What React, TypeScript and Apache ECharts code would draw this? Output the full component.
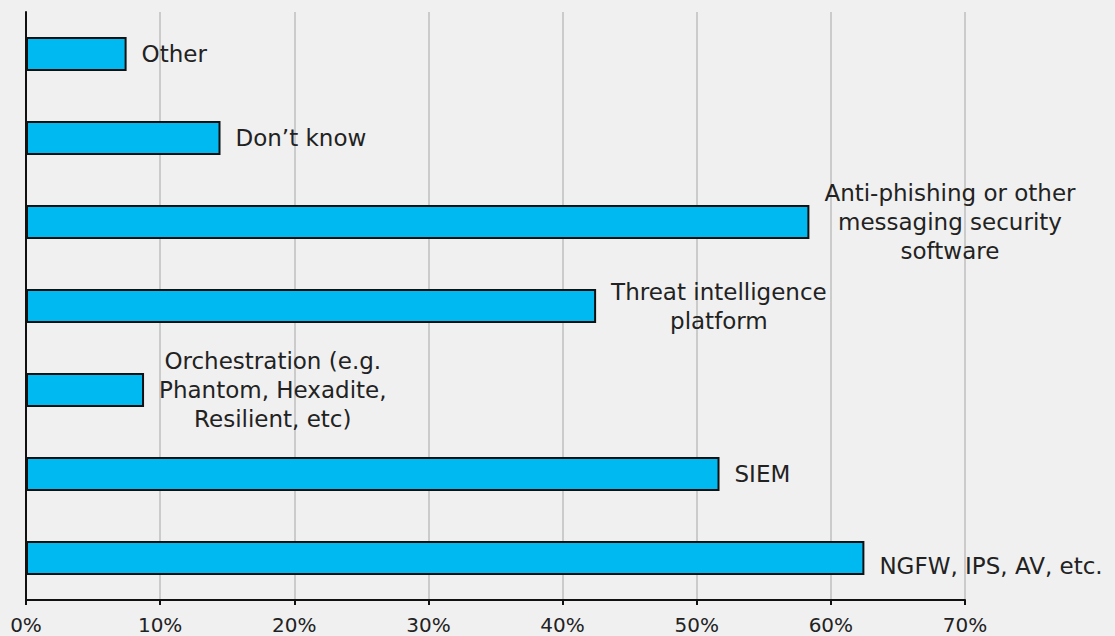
import React, { useEffect, useRef } from "react";
import * as echarts from "echarts";

// Categories from bottom to top of the chart
const categories = [
  "NGFW, IPS, AV, etc.",
  "SIEM",
  "Orchestration (e.g.\nPhantom, Hexadite,\nResilient, etc)",
  "Threat intelligence\nplatform",
  "Anti-phishing or other\nmessaging security\nsoftware",
  "Don’t know",
  "Other",
];

// Share of respondents, in percent
const values = [62.5, 51.7, 8.8, 42.5, 58.4, 14.5, 7.5];

// Tick values on the percentage axis
const axisMin = 0;
const axisMax = 70;
const axisStep = 10;

const FONT = "'DejaVu Sans', sans-serif";

export default function App() {
  const ref = useRef<HTMLDivElement>(null);

  useEffect(() => {
    if (!ref.current) return;
    const chart = echarts.init(ref.current, null, { renderer: "svg" });

    const data = values.map((v, i) => ({
      value: v,
      label: i === 0 ? { offset: [0, 8] } : undefined,
    }));

    chart.setOption({
      animation: false,
      backgroundColor: "#f0f0f0",
      grid: { left: 26, right: 150, top: 12, bottom: 36, containLabel: false },
      xAxis: {
        type: "value",
        min: axisMin,
        max: axisMax,
        interval: axisStep,
        axisLine: { show: true, lineStyle: { color: "#111", width: 2 } },
        axisTick: { show: true, length: 5, lineStyle: { color: "#111", width: 2 } },
        splitLine: { show: true, lineStyle: { color: "#cbcbcb", width: 2 } },
        axisLabel: {
          formatter: "{value}%",
          color: "#222",
          fontFamily: FONT,
          fontSize: 20,
          margin: 15,
        },
      },
      yAxis: {
        type: "category",
        data: categories,
        axisLine: { show: true, lineStyle: { color: "#111", width: 2 } },
        axisTick: { show: false },
        axisLabel: { show: false },
        splitLine: { show: false },
      },
      series: [
        {
          type: "bar",
          data,
          barWidth: 34,
          itemStyle: { color: "#00b9f1", borderColor: "#111", borderWidth: 2 },
          label: {
            show: true,
            position: "right",
            distance: 15,
            formatter: (p: any) =>
              String(categories[p.dataIndex])
                .split("\n")
                .map((l) => `{t|${l}}`)
                .join("\n"),
            rich: {
              t: {
                align: "center",
                fontFamily: FONT,
                fontSize: 23,
                lineHeight: 29,
                color: "#222",
              },
            },
          },
        },
      ],
    });

    return () => chart.dispose();
  }, []);

  return (
    <div
      ref={ref}
      style={{ position: "fixed", left: 0, top: 0, width: 1115, height: 636 }}
    />
  );
}
